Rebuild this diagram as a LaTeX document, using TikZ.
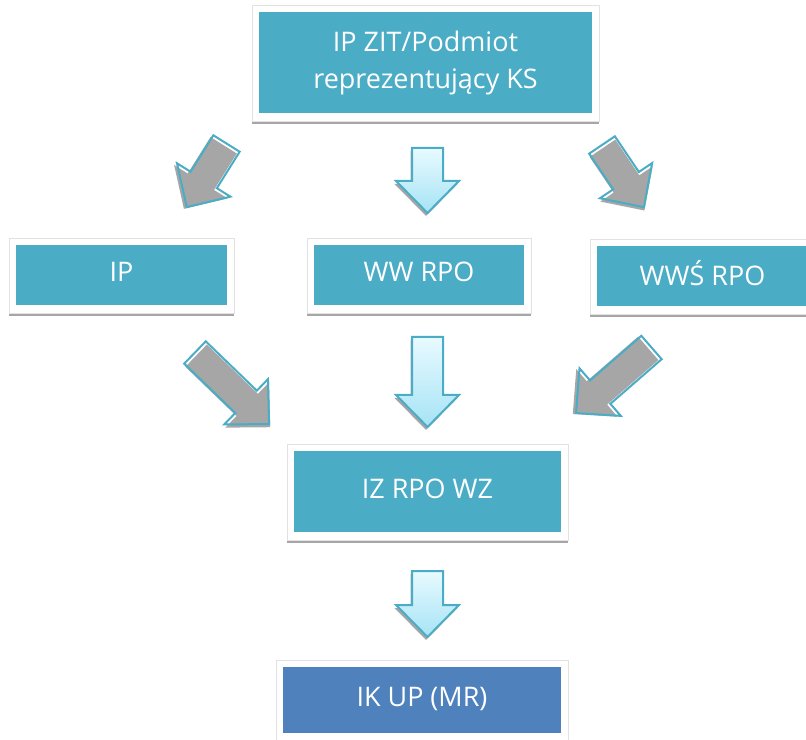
\documentclass[tikz,border=0pt]{standalone}
\usepackage{fontspec}
\usetikzlibrary{shadows}
\newfontfamily\boxfont{Open Sans}
\definecolor{boxteal}{HTML}{4BACC6}
\definecolor{boxblue}{HTML}{4F81BD}
\definecolor{arrowgray}{HTML}{A6A6A6}
\definecolor{framegray}{HTML}{E2E2E2}
\definecolor{arrowtop}{HTML}{E8FAFF}
\definecolor{arrowbottom}{HTML}{A6E3F5}

\tikzset{
  box/.style={fill=white, draw=framegray, line width=0.4pt, text=white, align=center,
    inner sep=0pt, font=\boxfont\fontsize{23}{31}\selectfont,
    drop shadow={shadow xshift=0cm, shadow yshift=-0.1cm, fill=arrowgray, opacity=1},
    path picture={\fill[#1] ([shift={(0.21cm,-0.21cm)}]path picture bounding box.north west)
      rectangle ([shift={(-0.21cm,0.24cm)}]path picture bounding box.south east);}},
  box/.default=boxteal,
  oneline/.style={text depth=0.22cm},
  arrowline/.style={draw=boxteal, line width=0.06cm, line join=miter},
  pics/grayarrow/.style={code={
    \fill[arrowgray] (3,-14) -- (#1-29,-14) -- (#1-29,-30) -- (#1+3,1.5) -- (#1-29,33) -- (#1-29,17) -- (3,17) -- cycle;
    \draw[arrowline] (0,-15.5) -- (#1-32,-15.5) -- (#1-32,-31.5) -- (#1,0) -- (#1-32,31.5) -- (#1-32,15.5) -- (0,15.5) -- cycle;
  }},
  pics/bluearrow/.style={code={
    \fill[arrowgray] (-17,3) -- (14,3) -- (14,#1-29) -- (30,#1-29) -- (-1.5,#1+3) -- (-33,#1-29) -- (-17,#1-29) -- cycle;
    \draw[arrowline, top color=arrowtop, bottom color=arrowbottom] (-15.5,0) -- (15.5,0) -- (15.5,#1-32) -- (31.5,#1-32) -- (0,#1) -- (-31.5,#1-32) -- (-15.5,#1-32) -- cycle;
  }}
}

\begin{document}
\begin{tikzpicture}[x=0.03cm, y=-0.03cm]
	\useasboundingbox (0,0) rectangle (806,740);
	% boxes
	\node[box, minimum width=10.41cm, minimum height=3.48cm] (zit) at (425.5,63) {IP ZIT/Podmiot\\reprezentujący KS};
	\node[box, oneline, minimum width=6.75cm, minimum height=2.25cm] (ip) at (121.5,275.5) {IP};
	\node[box, oneline, minimum width=6.72cm, minimum height=2.25cm] (ww) at (419,275.5) {WW RPO};
	\node[box, oneline, minimum width=6.75cm, minimum height=2.25cm] (wws) at (702.5,276.5) {WWŚ RPO};
	\node[box, oneline, minimum width=8.43cm, minimum height=2.88cm] (iz) at (427.5,492) {IZ RPO WZ};
	\node[box=boxblue, oneline, minimum width=8.76cm, minimum height=2.43cm] (ik) at (422,700.5) {IK UP (MR)};
	% arrows
	\pic[rotate=-122] at (226.5,143.5) {grayarrow=75};
	\pic at (427.5,148) {bluearrow=65};
	\pic[rotate=-56] at (602,145) {grayarrow=75};
	\pic[rotate=-44] at (195,352.5) {grayarrow=103};
	\pic at (427.5,337) {bluearrow=90};
	\pic[rotate=-139] at (651.5,347.5) {grayarrow=100};
	\pic at (427.5,571) {bluearrow=66};
\end{tikzpicture}
\end{document}
